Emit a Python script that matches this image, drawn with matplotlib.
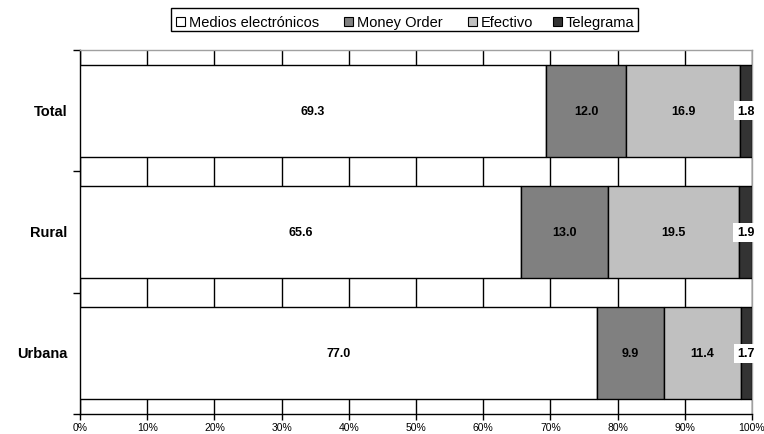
import matplotlib
matplotlib.use("Agg")
import matplotlib.pyplot as plt
from matplotlib.patches import Rectangle

plt.rcParams['font.family'] = ['Liberation Sans', 'DejaVu Sans']

categories = ["Total", "Rural", "Urbana"]
series_names = ["Medios electrónicos", "Money Order", "Efectivo", "Telegrama"]
medios = [69.3, 65.6, 77.0]
money_order = [12.0, 13.0, 9.9]
efectivo = [16.9, 19.5, 11.4]
telegrama = [1.8, 1.9, 1.7]
x_ticks = [0, 10, 20, 30, 40, 50, 60, 70, 80, 90, 100]
x_tick_labels = ["0%", "10%", "20%", "30%", "40%", "50%", "60%", "70%", "80%", "90%", "100%"]

colors = ["#ffffff", "#808080", "#c0c0c0", "#333333"]
series = [medios, money_order, efectivo, telegrama]

W, H = 764, 435
fig = plt.figure(figsize=(W / 100, H / 100), dpi=100)
ax = fig.add_axes([80 / W, 1 - 415 / H, (752 - 80) / W, (415 - 51) / H])

ypos = [2, 1, 0]
left = [0.0, 0.0, 0.0]
for vals, col in zip(series, colors):
    ax.barh(ypos, vals, left=left, height=0.76, color=col,
            edgecolor="black", linewidth=1.0, zorder=3)
    for y, l, v in zip(ypos, left, vals):
        cx = l + v / 2
        box = dict(facecolor="white", edgecolor="none", pad=2.5) if v < 5 else None
        ax.text(cx, y, f"{v:.1f}", ha="center", va="center", fontsize=9,
                fontweight="bold", color="black", zorder=5, bbox=box)
    left = [a + b for a, b in zip(left, vals)]

ax.set_xlim(0, 100)
ax.set_ylim(-0.5, 2.5)
ax.set_xticks(x_ticks)
ax.set_xticklabels(x_tick_labels, fontsize=7.5)
ax.xaxis.grid(True, color="black", linewidth=1.0, zorder=0)
ax.set_axisbelow(True)

# category boundaries carry the y tick marks; names sit at bar centres
ax.set_yticks([-0.5, 0.5, 1.5, 2.5])
ax.set_yticklabels([])
ax.tick_params(axis="y", direction="out", length=5, width=1, color="black")
ax.tick_params(axis="x", direction="out", length=4, width=1, color="black", pad=2)
for y, name in zip(ypos, categories):
    ax.text(-1.9, y, name, ha="right", va="center", fontsize=10.5,
            fontweight="bold")

for s in ["left", "bottom"]:
    ax.spines[s].set_color("black")
    ax.spines[s].set_linewidth(1.0)
for s in ["top", "right"]:
    ax.spines[s].set_color("#a0a0a0")
    ax.spines[s].set_linewidth(1.0)

# legend row: framed box with square swatches, all labels on one baseline
def fx(px):
    return px / W

def fy(py):
    return 1 - py / H

frame = Rectangle((fx(171), fy(32)), fx(638) - fx(171), fy(9) - fy(32),
                  transform=fig.transFigure, facecolor="white",
                  edgecolor="black", linewidth=1.0)
fig.patches.append(frame)
swatch_x = [176, 344, 468, 553]
for sx, col, name in zip(swatch_x, colors, series_names):
    fig.patches.append(Rectangle((fx(sx), fy(27)), fx(9), 9 / H,
                                 transform=fig.transFigure, facecolor=col,
                                 edgecolor="black", linewidth=0.8))
    fig.text(fx(sx + 13), fy(27), name, ha="left", va="baseline",
             fontsize=10.5, color="black")

fig.savefig("out.png", dpi=100, facecolor="white")
